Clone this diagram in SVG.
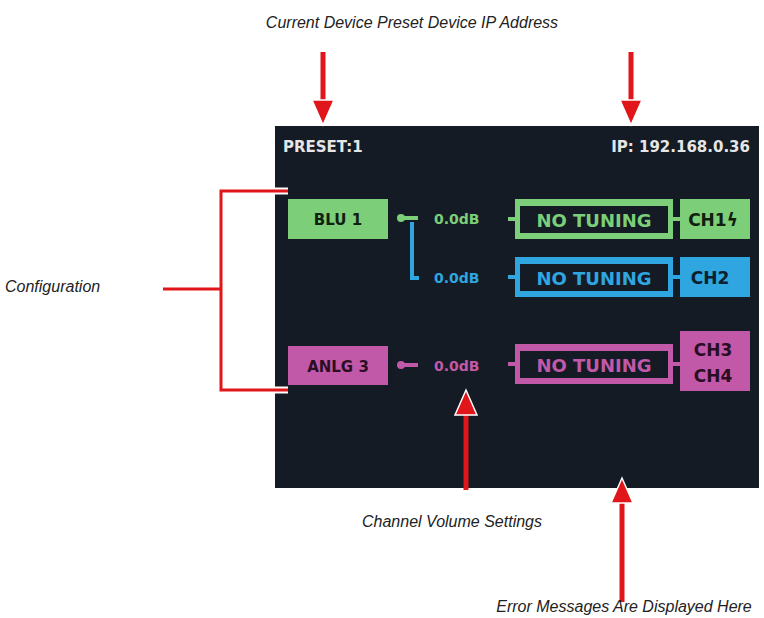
<svg xmlns="http://www.w3.org/2000/svg" width="764" height="618" viewBox="0 0 764 618">
<style>
.lab{font-family:"Liberation Sans",sans-serif;font-style:italic;font-size:16px;fill:#222}
.t{font-family:"DejaVu Sans",sans-serif;font-weight:bold}
.red{stroke:#e0161b;fill:none;stroke-width:3}
.sh{stroke:#e0161b;stroke-width:5}
.hd{fill:#e0161b;stroke:#fff;stroke-width:1.5}
.g{fill:#7ccf78}.b{fill:#2fa6e0}.p{fill:#c258a8}
</style>
<rect width="764" height="618" fill="#fff"/>
<g id="screen">
<rect x="275" y="126" width="484" height="362" fill="#141b25"/>
<text class="t" x="283" y="152" font-size="15" fill="#e6e6e6">PRESET:1</text>
<text class="t" x="750" y="152" font-size="15" fill="#e6e6e6" text-anchor="end">IP: 192.168.0.36</text>
</g>
<g id="blu1"><rect x="288" y="199" width="100" height="40" class="g"/><text class="t" x="338" y="225" font-size="15" text-anchor="middle" fill="#10200f">BLU 1</text></g>
<g id="anlg3"><rect x="288" y="346" width="100" height="39" class="p"/><text class="t" x="338" y="372" font-size="15" text-anchor="middle" fill="#2a0e24">ANLG 3</text></g>
<g id="row1">
<text class="t" x="434" y="224" font-size="14" fill="#7ccf78">0.0dB</text>
<rect x="515" y="199" width="158" height="40" class="g"/><rect x="520" y="206" width="148" height="27" fill="#141b25"/>
<text class="t" x="594" y="227" font-size="18" text-anchor="middle" fill="#7ccf78">NO TUNING</text>
<rect x="680" y="199" width="70" height="40" class="g"/><text class="t" x="713" y="226" font-size="17" text-anchor="middle" fill="#10200f">CH1ϟ</text>
</g>
<g id="row2">
<text class="t" x="434" y="283" font-size="14" fill="#2fa6e0">0.0dB</text>
<rect x="515" y="257" width="158" height="40" class="b"/><rect x="520" y="264" width="148" height="27" fill="#141b25"/>
<text class="t" x="594" y="285" font-size="18" text-anchor="middle" fill="#2fa6e0">NO TUNING</text>
<rect x="680" y="257" width="70" height="40" class="b"/><text class="t" x="710" y="284" font-size="17" text-anchor="middle" fill="#0c2030">CH2</text>
</g>
<g id="row3">
<text class="t" x="434" y="371" font-size="14" fill="#c258a8">0.0dB</text>
<rect x="515" y="344" width="158" height="40" class="p"/><rect x="520" y="351" width="148" height="27" fill="#141b25"/>
<text class="t" x="594" y="372" font-size="18" text-anchor="middle" fill="#c258a8">NO TUNING</text>
<rect x="680" y="331" width="70" height="60" class="p"/>
<text class="t" x="713" y="356" font-size="17" text-anchor="middle" fill="#2a0e24">CH3</text>
<text class="t" x="713" y="382" font-size="17" text-anchor="middle" fill="#2a0e24">CH4</text>
</g>
<g id="connectors">
<circle cx="401" cy="218" r="4" fill="#7ccf78"/><line x1="401" y1="218" x2="418" y2="218" stroke="#7ccf78" stroke-width="4"/>
<path d="M412,222 V278 H419" stroke="#2fa6e0" stroke-width="4" fill="none"/>
<circle cx="401" cy="365" r="4" fill="#c258a8"/><line x1="401" y1="365" x2="418" y2="365" stroke="#c258a8" stroke-width="4"/>
<line x1="508" y1="219" x2="515" y2="219" stroke="#7ccf78" stroke-width="4"/>
<line x1="508" y1="277" x2="515" y2="277" stroke="#2fa6e0" stroke-width="4"/>
<line x1="508" y1="364" x2="515" y2="364" stroke="#c258a8" stroke-width="4"/>
<line x1="673" y1="219" x2="680" y2="219" stroke="#7ccf78" stroke-width="4"/>
<line x1="673" y1="277" x2="680" y2="277" stroke="#2fa6e0" stroke-width="4"/>
<line x1="673" y1="364" x2="680" y2="364" stroke="#c258a8" stroke-width="4"/>
<path d="M288,191 H221 V390 H288 M163,289 H221" stroke="#fff" stroke-width="7" fill="none"/>
<path class="red" d="M288,191 H221 V390 H288 M163,289 H221"/>
<line x1="323" y1="52" x2="323" y2="102" class="sh"/><polygon class="hd" points="312,100 334,100 323,125"/>
<line x1="631" y1="52" x2="631" y2="102" class="sh"/><polygon class="hd" points="620,100 642,100 631,125"/>
<line x1="466" y1="490" x2="466" y2="412" class="sh"/><polygon class="hd" points="455,415 477,415 466,390"/>
<line x1="622" y1="602" x2="622" y2="500" class="sh"/><polygon class="hd" points="611,503 633,503 622,478"/>
</g>
<text class="lab" x="412" y="28" text-anchor="middle">Current Device Preset Device IP Address</text>
<text class="lab" x="5" y="292">Configuration</text>
<text class="lab" x="452" y="527" text-anchor="middle">Channel Volume Settings</text>
<text class="lab" x="624" y="612" text-anchor="middle">Error Messages Are Displayed Here</text>
</svg>
